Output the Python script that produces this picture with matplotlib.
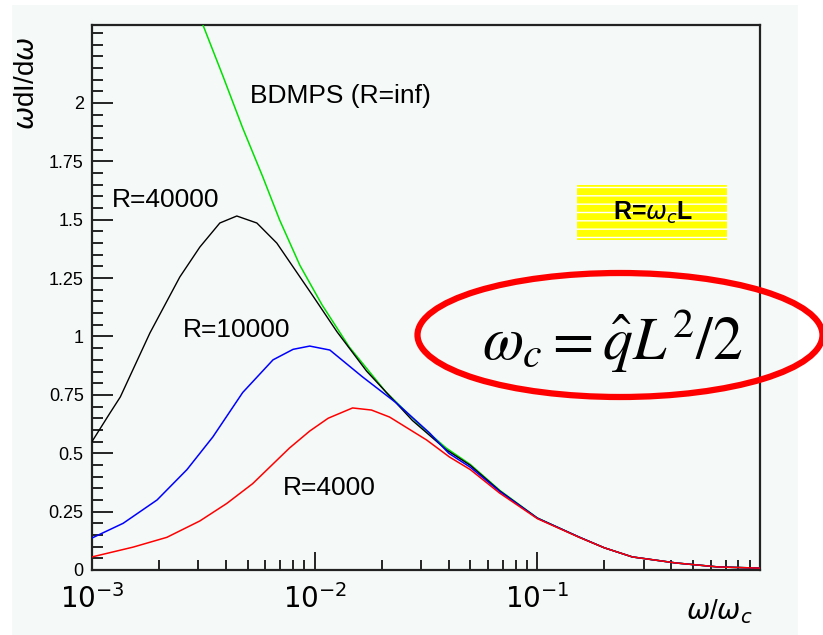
import matplotlib
matplotlib.use("Agg")
import matplotlib.pyplot as plt
from matplotlib.patches import Rectangle, Ellipse
from matplotlib.ticker import MultipleLocator, LogLocator, NullFormatter, FixedLocator
import numpy as np

# values
x_bdmps = [3.15e-3, 3.87e-3, 4.75e-3, 5.84e-3, 6.96e-3, 8.58e-3, 1.08e-2, 1.43e-2, 2.09e-2,
           2.96e-2, 3.9e-2, 5.0e-2, 6.8e-2, 0.10, 0.154, 0.20, 0.267, 0.42, 0.65, 1.0]
y_bdmps = [2.334, 2.116, 1.893, 1.685, 1.499, 1.305, 1.135, 0.955, 0.762,
           0.621, 0.522, 0.452, 0.34, 0.223, 0.141, 0.095, 0.056, 0.03, 0.013, 0.008]

x_r40000 = [1.0e-3, 1.2e-3, 1.34e-3, 1.82e-3, 2.48e-3, 3.05e-3, 3.75e-3, 4.47e-3, 5.5e-3,
            6.76e-3, 9.8e-3, 1.26e-2, 1.71e-2, 2.75e-2, 3.9e-2, 5.0e-2, 6.8e-2,
            0.10, 0.154, 0.20, 0.267, 0.42, 0.65, 1.0]
y_r40000 = [0.55, 0.67, 0.741, 1.015, 1.255, 1.383, 1.486, 1.516, 1.486,
            1.40, 1.175, 1.02, 0.852, 0.64, 0.515, 0.448, 0.338,
            0.222, 0.141, 0.095, 0.056, 0.03, 0.013, 0.008]

x_r10000 = [1.0e-3, 1.38e-3, 1.96e-3, 2.67e-3, 3.49e-3, 4.75e-3, 6.5e-3, 8.0e-3, 9.5e-3,
            1.17e-2, 1.64e-2, 2.33e-2, 3.28e-2, 4.0e-2, 5.0e-2, 6.8e-2, 0.10, 0.154,
            0.20, 0.267, 0.42, 0.65, 1.0]
y_r10000 = [0.137, 0.20, 0.30, 0.43, 0.57, 0.76, 0.90, 0.945, 0.959,
            0.942, 0.827, 0.715, 0.587, 0.50, 0.44, 0.335, 0.222, 0.141,
            0.095, 0.056, 0.03, 0.013, 0.008]

x_r4000 = [1.0e-3, 1.53e-3, 2.17e-3, 3.05e-3, 4.03e-3, 5.27e-3, 7.7e-3, 9.5e-3, 1.15e-2,
           1.48e-2, 1.8e-2, 2.17e-2, 3.18e-2, 4.03e-2, 5.0e-2, 6.76e-2, 0.10, 0.154,
           0.20, 0.267, 0.42, 0.65, 1.0]
y_r4000 = [0.056, 0.098, 0.14, 0.21, 0.285, 0.37, 0.522, 0.595, 0.65,
           0.694, 0.685, 0.655, 0.557, 0.484, 0.43, 0.33, 0.22, 0.14,
           0.095, 0.056, 0.03, 0.013, 0.008]

x_ticks = [1e-3, 1e-2, 1e-1]
y_ticks = [0, 0.25, 0.5, 0.75, 1, 1.25, 1.5, 1.75, 2]
y_ticklabels = ["0", "0.25", "0.5", "0.75", "1", "1.25", "1.5", "1.75", "2"]

plt.rcParams['font.family'] = ['Liberation Sans', 'DejaVu Sans']
plt.rcParams['mathtext.fontset'] = 'dejavusans'

fig = plt.figure(figsize=(8.23, 6.35), dpi=100)
fig.patch.set_facecolor('white')
fig.patches.append(Rectangle((12 / 823, 0), (798 - 12) / 823, 1 - 5 / 635,
                             transform=fig.transFigure, facecolor='#f5f9f7',
                             edgecolor='none', zorder=-5))

ax = fig.add_axes([92 / 823, 1 - 570 / 635, (760 - 92) / 823, (570 - 25) / 635])
ax.set_facecolor('#f5f9f7')
ax.set_xscale('log')
ax.set_xlim(1e-3, 1.0)
ax.set_ylim(0, 2.334)

ax.plot(x_bdmps, y_bdmps, color='#00e000', lw=1.1, zorder=3)
ax.plot(x_r40000, y_r40000, color='black', lw=1.0, zorder=4)
ax.plot(x_r10000, y_r10000, color='blue', lw=1.1, zorder=5)
ax.plot(x_r4000, y_r4000, color='red', lw=1.1, zorder=5)

for s in ax.spines.values():
    s.set_linewidth(1.6)
    s.set_color('#222222')

ax.yaxis.set_major_locator(FixedLocator(y_ticks))
ax.set_yticklabels(y_ticklabels)
ax.yaxis.set_minor_locator(MultipleLocator(0.05))
ax.xaxis.set_major_locator(FixedLocator(x_ticks))
ax.set_xticklabels([r"$10^{-3}$", r"$10^{-2}$", r"$10^{-1}$"])
ax.xaxis.set_minor_locator(LogLocator(base=10, subs=np.arange(2, 10), numticks=20))
ax.xaxis.set_minor_formatter(NullFormatter())
ax.tick_params(axis='both', which='both', direction='in', top=False, right=False, width=1.2)
ax.tick_params(axis='y', which='major', length=15, labelsize=13, pad=6)
ax.tick_params(axis='y', which='minor', length=8)
ax.tick_params(axis='x', which='major', length=13, labelsize=20, pad=10)
ax.tick_params(axis='x', which='minor', length=7)

# labels on the plot
ax.text(0.2365, 0.857, "BDMPS (R=inf)", transform=ax.transAxes, fontsize=19, va='baseline')
ax.text(0.030, 0.666, "R=40000", transform=ax.transAxes, fontsize=19, va='baseline')
ax.text(0.136, 0.4275, "R=10000", transform=ax.transAxes, fontsize=19, va='baseline')
ax.text(0.286, 0.138, "R=4000", transform=ax.transAxes, fontsize=19, va='baseline')

# yellow hatched box
box = Rectangle((577 / 823, 1 - 240 / 635), 150 / 823, 55 / 635, transform=fig.transFigure,
                facecolor='#ffff00', edgecolor='white', hatch='--', lw=0, zorder=6)
fig.patches.append(box)
fig.text(653 / 823, 1 - 213 / 635, r"R=$\omega_{c}$L", ha='center', va='center',
         fontsize=18, zorder=7, fontweight='bold')

fig.text(686 / 823, 1 - 612 / 635, r"$\omega$/$\omega_c$", fontsize=20, va='center')
fig.text(27 / 823, 1 - 83 / 635, r"$\omega$dI/d$\omega$", fontsize=20, rotation=90,
         ha='center', va='center')

# red ellipse with formula
fig.patches.append(Ellipse((620 / 823, 1 - 335 / 635), 405 / 823, 124 / 635,
                           transform=fig.transFigure, facecolor='none', edgecolor='red',
                           lw=4.5, zorder=8))
fig.text(612 / 823, 1 - 340 / 635, r"$\omega_c = \hat{q}L^2/2$", fontsize=43,
         ha='center', va='center', zorder=9, math_fontfamily='stix')

fig.savefig("out.png", dpi=100)
